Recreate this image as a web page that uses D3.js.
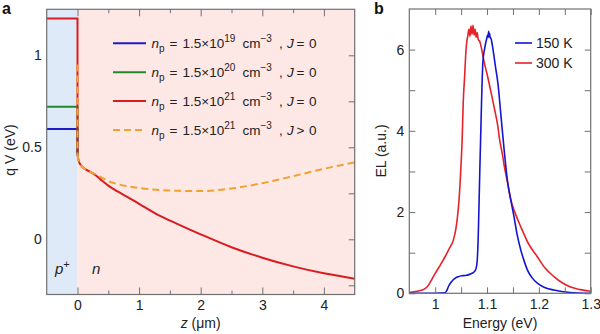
<!DOCTYPE html>
<html>
<head>
<meta charset="utf-8">
<script src="https://cdn.jsdelivr.net/npm/d3@7"></script>
<style>
  body { margin: 0; background: #fff; }
  svg { font-family: "Liberation Sans", Arial, sans-serif; }
</style>
</head>
<body>
<div id="chart"></div>
<script>
// ---- panel a data : potential vs depth ----
var depthZ  = [0, 0.02, 0.05, 0.1, 0.2, 0.3, 0.4, 0.5, 0.65, 0.8, 1.0, 1.34, 1.6, 2.0, 2.5, 3.0, 3.5, 4.0, 4.5];
var potJ0   = [0.46, 0.425, 0.405, 0.387, 0.368, 0.347, 0.318, 0.292, 0.26, 0.232, 0.193, 0.127, 0.087, 0.027, -0.043, -0.1, -0.147, -0.185, -0.214];
var potJpos = [0.46, 0.425, 0.405, 0.387, 0.368, 0.352, 0.334, 0.316, 0.3, 0.289, 0.279, 0.268, 0.264, 0.262, 0.276, 0.305, 0.343, 0.383, 0.418];
var pSideZ  = [-0.5, 0];
var pSideV  = [0.6, 0.72, 1.2];        // J = 0, one per doping
var jPosStartV = 0.95;                 // top of the J > 0 curve at z = 0
var dopingExp = ["19", "20", "21", "21"];
var currentSign = ["=", "=", "=", ">"];
var zTicks = [0, 1, 2, 3, 4];
var zMinorTicks = [0.5, 1.5, 2.5, 3.5];
var vTicks = [0, 0.5, 1];
var vRightTicks = [-0.25, 0, 0.25, 0.5, 0.75, 1];

// ---- panel b data : EL spectra ----
var energy150 = [0.95, 1.0, 1.018, 1.022, 1.026, 1.031, 1.038, 1.045, 1.051, 1.058, 1.065, 1.072, 1.076, 1.079, 1.081, 1.083, 1.084, 1.086, 1.088, 1.09, 1.092, 1.095, 1.098, 1.1, 1.101, 1.102, 1.103, 1.104, 1.105, 1.106, 1.107, 1.109, 1.111, 1.116, 1.121, 1.127, 1.133, 1.14, 1.146, 1.152, 1.158, 1.165, 1.172, 1.178, 1.187, 1.197, 1.21, 1.229, 1.26, 1.3];
var el150     = [0, 0, 0.01, 0.06, 0.18, 0.28, 0.37, 0.41, 0.43, 0.44, 0.46, 0.5, 0.54, 0.62, 0.8, 1.4, 1.9, 3.0, 4.0, 5.0, 5.7, 6.0, 6.2, 6.3, 6.36, 6.3, 6.45, 6.32, 6.4, 6.28, 6.3, 6.2, 6.05, 5.6, 5.17, 4.35, 3.53, 2.71, 2.28, 1.89, 1.45, 1.07, 0.78, 0.57, 0.38, 0.25, 0.15, 0.08, 0.02, 0.0];
var energy300 = [0.95, 0.965, 0.975, 0.981, 0.987, 0.993, 1.0, 1.01, 1.019, 1.027, 1.035, 1.04, 1.043, 1.046, 1.048, 1.05, 1.052, 1.054, 1.057, 1.059, 1.061, 1.063, 1.065, 1.067, 1.069, 1.071, 1.073, 1.075, 1.077, 1.079, 1.081, 1.083, 1.086, 1.089, 1.092, 1.095, 1.1, 1.108, 1.115, 1.121, 1.124, 1.13, 1.133, 1.14, 1.146, 1.155, 1.165, 1.18, 1.197, 1.212, 1.229, 1.245, 1.26, 1.28, 1.3];
var el300     = [0.02, 0.05, 0.08, 0.12, 0.2, 0.33, 0.49, 0.7, 0.9, 1.1, 1.31, 1.6, 1.89, 2.3, 2.71, 3.2, 3.8, 4.68, 5.4, 5.91, 6.2, 6.35, 6.5, 6.33, 6.58, 6.38, 6.6, 6.36, 6.5, 6.3, 6.42, 6.25, 6.2, 6.05, 5.85, 5.66, 5.4, 4.93, 4.5, 4.1, 3.8, 3.4, 3.15, 2.7, 2.3, 1.95, 1.64, 1.22, 0.9, 0.62, 0.41, 0.26, 0.16, 0.09, 0.05];
var tempLabels = ["150 K", "300 K"];
var eTicks = [1, 1.1, 1.2, 1.3];
var eMinorTicks = [1.05, 1.15, 1.25];
var elTicks = [0, 2, 4, 6];
var elMinorTicks = [1, 3, 5];

(function () {

    var svg = d3.select("#chart").append("svg")
        .attr("width", 600)
        .attr("height", 334);

    var axisColor = "#707070",
        textColor = "#222";

    var colorsA = ["#1c1cc8", "#1f8a2c", "#d81c1f", "#f0a12e"];
    var colorsB = ["#1414d2", "#e6222a"];

    // ================= panel a =================
    var xa = d3.scaleLinear().domain([-0.5, 4.5]).range([46.7, 354.7]);
    var ya = d3.scaleLinear().domain([-0.3, 1.25]).range([294.5, 9.3]);

    var ga = svg.append("g");

    svg.append("clipPath").attr("id", "clipA")
        .append("rect")
        .attr("x", xa(-0.5)).attr("y", ya(1.25))
        .attr("width", xa(4.5) - xa(-0.5)).attr("height", ya(-0.3) - ya(1.25));

    // p+ and n region shading
    ga.append("rect")
        .attr("x", xa(-0.5)).attr("y", ya(1.25))
        .attr("width", xa(0) - xa(-0.5)).attr("height", ya(-0.3) - ya(1.25))
        .attr("fill", "#deeaf8");
    ga.append("rect")
        .attr("x", xa(0)).attr("y", ya(1.25))
        .attr("width", xa(4.5) - xa(0)).attr("height", ya(-0.3) - ya(1.25))
        .attr("fill", "#fde8e5");

    var lineA = d3.line()
        .x(function (d) { return xa(d[0]); })
        .y(function (d) { return ya(d[1]); });
    var curveA = d3.line()
        .curve(d3.curveMonotoneX)
        .x(function (d) { return xa(d[0]); })
        .y(function (d) { return ya(d[1]); });

    var plotA = ga.append("g").attr("clip-path", "url(#clipA)");

    var nSideJ0 = depthZ.map(function (z, i) { return [z, potJ0[i]]; });
    var nSideJpos = depthZ.map(function (z, i) { return [z, potJpos[i]]; });

    // J = 0 curves: flat p side, drop at the junction; the n side is
    // shared by all three, only the top (red) one is visible
    pSideV.forEach(function (v, i) {
        plotA.append("path")
            .attr("d", lineA([[pSideZ[0], v], [pSideZ[1], v], [0, potJ0[0]]]))
            .attr("fill", "none")
            .attr("stroke", colorsA[i])
            .attr("stroke-width", 2);
    });
    plotA.append("path")
        .attr("d", curveA(nSideJ0))
        .attr("fill", "none")
        .attr("stroke", colorsA[2])
        .attr("stroke-width", 2);

    // J > 0 dashed curve
    plotA.append("path")
        .attr("d", lineA([[0, jPosStartV], [0, potJpos[0]]]))
        .attr("fill", "none")
        .attr("stroke", colorsA[3])
        .attr("stroke-width", 2)
        .attr("stroke-dasharray", "7,4");
    plotA.append("path")
        .attr("d", curveA(nSideJpos))
        .attr("fill", "none")
        .attr("stroke", colorsA[3])
        .attr("stroke-width", 2)
        .attr("stroke-dasharray", "7,4");

    // axes of panel a (ticks pointing inward)
    function styleAxis(g) {
        g.select(".domain").remove();
        g.selectAll(".tick line").attr("stroke", axisColor);
        g.selectAll(".tick text").attr("fill", textColor).style("font-size", "14px");
    }

    ga.append("g").attr("transform", "translate(0," + ya(-0.3) + ")")
        .call(d3.axisBottom(xa).tickValues(zTicks).tickSize(-7).tickPadding(6).tickFormat(d3.format("d")))
        .call(styleAxis);
    ga.append("g").attr("transform", "translate(0," + ya(-0.3) + ")")
        .call(d3.axisBottom(xa).tickValues(zMinorTicks).tickSize(-4).tickFormat(""))
        .call(styleAxis);
    ga.append("g").attr("transform", "translate(0," + ya(1.25) + ")")
        .call(d3.axisTop(xa).tickValues(zTicks).tickSize(-7).tickFormat(""))
        .call(styleAxis);
    ga.append("g").attr("transform", "translate(0," + ya(1.25) + ")")
        .call(d3.axisTop(xa).tickValues(zMinorTicks).tickSize(-4).tickFormat(""))
        .call(styleAxis);
    ga.append("g").attr("transform", "translate(" + xa(-0.5) + ",0)")
        .call(d3.axisLeft(ya).tickValues(vTicks).tickSize(0).tickPadding(5).tickFormat(function (d) { return d; }))
        .call(styleAxis);
    ga.append("g").attr("transform", "translate(" + xa(4.5) + ",0)")
        .call(d3.axisRight(ya).tickValues(vRightTicks).tickSize(-6).tickFormat(""))
        .call(styleAxis);

    ga.append("rect")
        .attr("x", xa(-0.5)).attr("y", ya(1.25))
        .attr("width", xa(4.5) - xa(-0.5)).attr("height", ya(-0.3) - ya(1.25))
        .attr("fill", "none")
        .attr("stroke", axisColor)
        .attr("stroke-width", 1.2);

    // region labels
    var pLab = ga.append("text").attr("x", 55).attr("y", 274)
        .style("font-size", "15px").attr("fill", textColor);
    pLab.append("tspan").style("font-style", "italic").text("p");
    pLab.append("tspan").attr("dy", -6).style("font-size", "11px").text("+");
    ga.append("text").attr("x", 92).attr("y", 274)
        .style("font-size", "15px").style("font-style", "italic").attr("fill", textColor)
        .text("n");

    // legend of panel a
    var legRowsA = [43.3, 72.3, 101, 130];
    legRowsA.forEach(function (yy, i) {
        var row = ga.append("g").attr("transform", "translate(113," + yy + ")");
        row.append("line")
            .attr("x1", 0).attr("x2", 33).attr("y1", 0).attr("y2", 0)
            .attr("stroke", colorsA[i])
            .attr("stroke-width", 2)
            .attr("stroke-dasharray", i == 3 ? "7,4" : null);

        var t = row.append("text").attr("y", 5).style("font-size", "13.5px").attr("fill", textColor);
        t.append("tspan").attr("x", 38.5).style("font-style", "italic").text("n");
        t.append("tspan").attr("dy", 3.5).style("font-size", "10px").text("p");
        t.append("tspan").attr("x", 56.5).attr("dy", -3.5).text("=");
        t.append("tspan").attr("x", 69.5).text("1.5×10");
        t.append("tspan").attr("dy", -6).style("font-size", "10px").text(dopingExp[i]);
        t.append("tspan").attr("x", 129.5).attr("dy", 6).text("cm");
        t.append("tspan").attr("dy", -6).style("font-size", "10px").text("−3");
        t.append("tspan").attr("x", 166).attr("dy", 6).text(",");
        t.append("tspan").attr("x", 174).style("font-style", "italic").text("J");
        t.append("tspan").attr("x", 183.5).text(currentSign[i]);
        t.append("tspan").attr("x", 196).text("0");
    });

    // axis titles
    svg.append("text")
        .attr("transform", "translate(15,150) rotate(-90)")
        .attr("text-anchor", "middle")
        .style("font-size", "14px").attr("fill", textColor)
        .text("q V (eV)");
    var zLab = svg.append("text")
        .attr("x", (xa(-0.5) + xa(4.5)) / 2).attr("y", 328)
        .attr("text-anchor", "middle")
        .style("font-size", "14px").attr("fill", textColor);
    zLab.append("tspan").style("font-style", "italic").text("z");
    zLab.append("tspan").text(" (μm)");

    svg.append("text").attr("x", 2).attr("y", 14)
        .style("font-size", "16px").style("font-weight", "bold").attr("fill", "#111")
        .text("a");

    // ================= panel b =================
    var xb = d3.scaleLinear().domain([0.95, 1.3]).range([409.3, 590.7]);
    var yb = d3.scaleLinear().domain([0, 7]).range([293.3, 9]);

    var gb = svg.append("g");

    svg.append("clipPath").attr("id", "clipB")
        .append("rect")
        .attr("x", xb(0.95)).attr("y", yb(7))
        .attr("width", xb(1.3) - xb(0.95)).attr("height", yb(0) - yb(7));

    var lineB = d3.line()
        .curve(d3.curveMonotoneX)
        .x(function (d) { return xb(d[0]); })
        .y(function (d) { return yb(d[1]); });

    var spectra = [
        energy150.map(function (e, i) { return [e, el150[i]]; }),
        energy300.map(function (e, i) { return [e, el300[i]]; })
    ];

    var plotB = gb.append("g").attr("clip-path", "url(#clipB)");
    // 300 K under 150 K
    [1, 0].forEach(function (k) {
        plotB.append("path")
            .attr("d", lineB(spectra[k]))
            .attr("fill", "none")
            .attr("stroke", colorsB[k])
            .attr("stroke-width", 1.6);
    });

    gb.append("g").attr("transform", "translate(0," + yb(0) + ")")
        .call(d3.axisBottom(xb).tickValues(eTicks).tickSize(-6).tickPadding(6)
            .tickFormat(function (d) { return d == 1 ? "1" : d3.format(".1f")(d); }))
        .call(styleAxis);
    gb.append("g").attr("transform", "translate(0," + yb(0) + ")")
        .call(d3.axisBottom(xb).tickValues(eMinorTicks).tickSize(-6).tickFormat(""))
        .call(styleAxis);
    gb.append("g").attr("transform", "translate(0," + yb(7) + ")")
        .call(d3.axisTop(xb).tickValues(eTicks.concat(eMinorTicks)).tickSize(-6).tickFormat(""))
        .call(styleAxis);
    gb.append("g").attr("transform", "translate(" + xb(0.95) + ",0)")
        .call(d3.axisLeft(yb).tickValues(elTicks).tickSize(-6).tickPadding(5).tickFormat(d3.format("d")))
        .call(styleAxis);
    gb.append("g").attr("transform", "translate(" + xb(0.95) + ",0)")
        .call(d3.axisLeft(yb).tickValues(elMinorTicks).tickSize(-6).tickFormat(""))
        .call(styleAxis);
    gb.append("g").attr("transform", "translate(" + xb(1.3) + ",0)")
        .call(d3.axisRight(yb).tickValues(elTicks.concat(elMinorTicks)).tickSize(-6).tickFormat(""))
        .call(styleAxis);

    gb.append("rect")
        .attr("x", xb(0.95)).attr("y", yb(7))
        .attr("width", xb(1.3) - xb(0.95)).attr("height", yb(0) - yb(7))
        .attr("fill", "none")
        .attr("stroke", axisColor)
        .attr("stroke-width", 1.2);

    // legend of panel b
    var legRowsB = [43, 63];
    tempLabels.forEach(function (lab, i) {
        var row = gb.append("g").attr("transform", "translate(515," + legRowsB[i] + ")");
        row.append("line")
            .attr("x1", 0).attr("x2", 17).attr("y1", 0).attr("y2", 0)
            .attr("stroke", colorsB[i])
            .attr("stroke-width", 1.6);
        row.append("text").attr("x", 21).attr("y", 5)
            .style("font-size", "14px").attr("fill", textColor)
            .text(lab);
    });

    svg.append("text")
        .attr("transform", "translate(386,151) rotate(-90)")
        .attr("text-anchor", "middle")
        .style("font-size", "14px").attr("fill", textColor)
        .text("EL (a.u.)");
    svg.append("text")
        .attr("x", (xb(0.95) + xb(1.3)) / 2).attr("y", 328)
        .attr("text-anchor", "middle")
        .style("font-size", "14px").attr("fill", textColor)
        .text("Energy (eV)");

    svg.append("text").attr("x", 374).attr("y", 14)
        .style("font-size", "16px").style("font-weight", "bold").attr("fill", "#111")
        .text("b");

})();
</script>
</body>
</html>
